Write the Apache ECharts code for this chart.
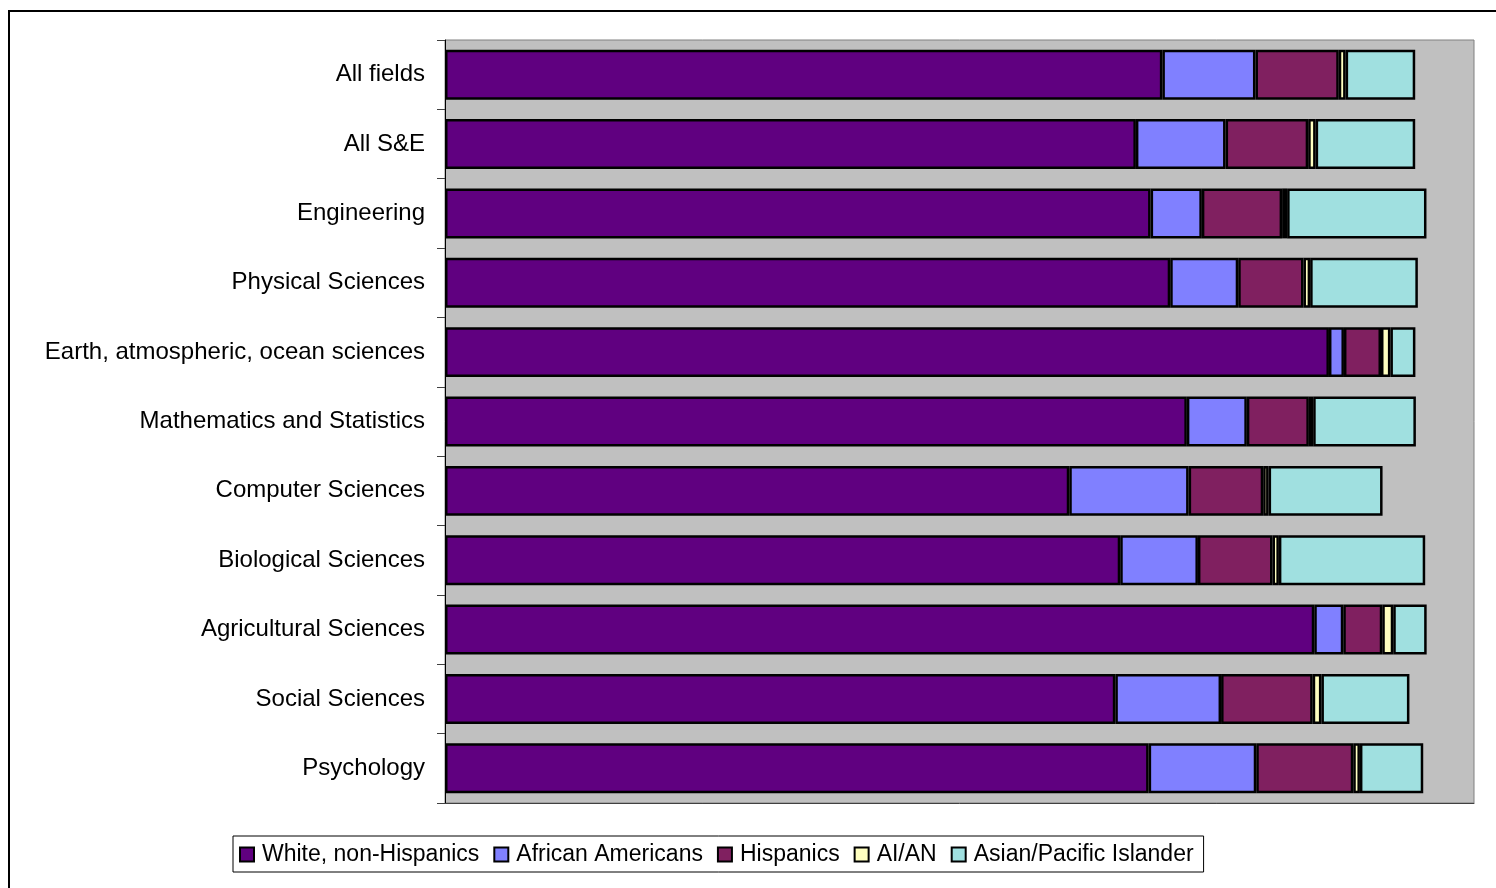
<!DOCTYPE html>
<html>
<head>
<meta charset="utf-8">
<title>S&E degrees by race/ethnicity</title>
<script src="https://cdn.jsdelivr.net/npm/echarts@6/dist/echarts.min.js"></script>
<style>
  html, body {
    margin: 0;
    padding: 0;
    background: #fff;
    overflow: hidden;
  }
  .frame {
    position: absolute;
    left: 8px;
    top: 10px;
    width: 1600px;
    height: 1000px;
    border: 2px solid #000;
  }
  #mainChart {
    position: absolute;
    left: 0;
    top: 0;
    width: 1496px;
    height: 888px;
  }
</style>
</head>
<body>
<div class="frame"></div>
<div id="mainChart"></div>
<script>
var fields = ['All fields', 'All S&E', 'Engineering', 'Physical Sciences',
  'Earth, atmospheric, ocean sciences', 'Mathematics and Statistics',
  'Computer Sciences', 'Biological Sciences', 'Agricultural Sciences',
  'Social Sciences', 'Psychology'];

// shares (percent)
var white    = [73.2, 70.5, 72.0, 74.0, 90.2, 75.7, 63.7, 68.9, 88.7, 68.4, 71.8];
var african  = [9.5, 9.15, 5.23, 6.94, 1.53, 6.12, 12.18, 7.93, 2.96, 10.79, 10.98];
var hispanic = [8.5, 8.43, 8.19, 6.66, 3.78, 6.33, 7.61, 7.61, 3.98, 9.35, 9.90];
var aian     = [0.7, 0.76, 0.51, 0.68, 0.96, 0.44, 0.55, 0.65, 1.12, 0.89, 0.68];
var asian    = [7.1, 10.16, 14.22, 10.99, 2.55, 10.48, 11.63, 14.93, 3.41, 8.98, 6.46];

var groupNames = ['White, non-Hispanics', 'African Americans', 'Hispanics', 'AI/AN', 'Asian/Pacific Islander'];
var groupColors = ['#600080', '#8080ff', '#802060', '#ffffc0', '#a0e0e0'];

function initChart() {
  var chart = echarts.init(document.getElementById('mainChart'));
  var values = [white, african, hispanic, aian, asian];
  var series = [];
  for (var i = 0; i < groupNames.length; i++) {
    series.push({
      name: groupNames[i],
      type: 'bar',
      stack: 'total',
      barWidth: '72%',
      data: values[i],
      itemStyle: {
        color: groupColors[i],
        borderColor: '#000',
        borderWidth: 2.5
      },
      emphasis: { disabled: true }
    });
  }

  var option = {
    animation: false,
    textStyle: {
      fontFamily: 'Liberation Sans, Arial, sans-serif'
    },
    grid: {
      left: 445,
      right: 22,
      top: 40,
      bottom: 85,
      show: true,
      backgroundColor: '#c0c0c0',
      borderColor: '#808080',
      borderWidth: 1
    },
    legend: {
      left: 233,
      top: 836,
      padding: [7, 10, 6, 6],
      itemGap: 14,
      itemWidth: 14,
      itemHeight: 14,
      icon: 'rect',
      borderColor: '#000',
      borderWidth: 1,
      backgroundColor: '#fff',
      itemStyle: {
        borderColor: '#000',
        borderWidth: 2
      },
      textStyle: {
        fontSize: 23,
        color: '#000',
        padding: [0, 0, 0, 3]
      },
      data: groupNames
    },
    xAxis: {
      type: 'value',
      min: 0,
      max: 105,
      axisLabel: { show: false },
      axisTick: { show: false },
      splitLine: { show: false },
      axisLine: {
        show: true,
        lineStyle: { color: '#404040', width: 1 }
      }
    },
    yAxis: {
      type: 'category',
      inverse: true,
      data: fields,
      axisLine: {
        show: true,
        lineStyle: { color: '#000', width: 1 }
      },
      axisTick: {
        show: true,
        length: 8,
        lineStyle: { color: '#404040' }
      },
      axisLabel: {
        fontSize: 24,
        color: '#000',
        margin: 20,
        padding: [4, 0, 0, 0]
      }
    },
    series: series
  };
  chart.setOption(option);
}

initChart();
</script>
</body>
</html>
